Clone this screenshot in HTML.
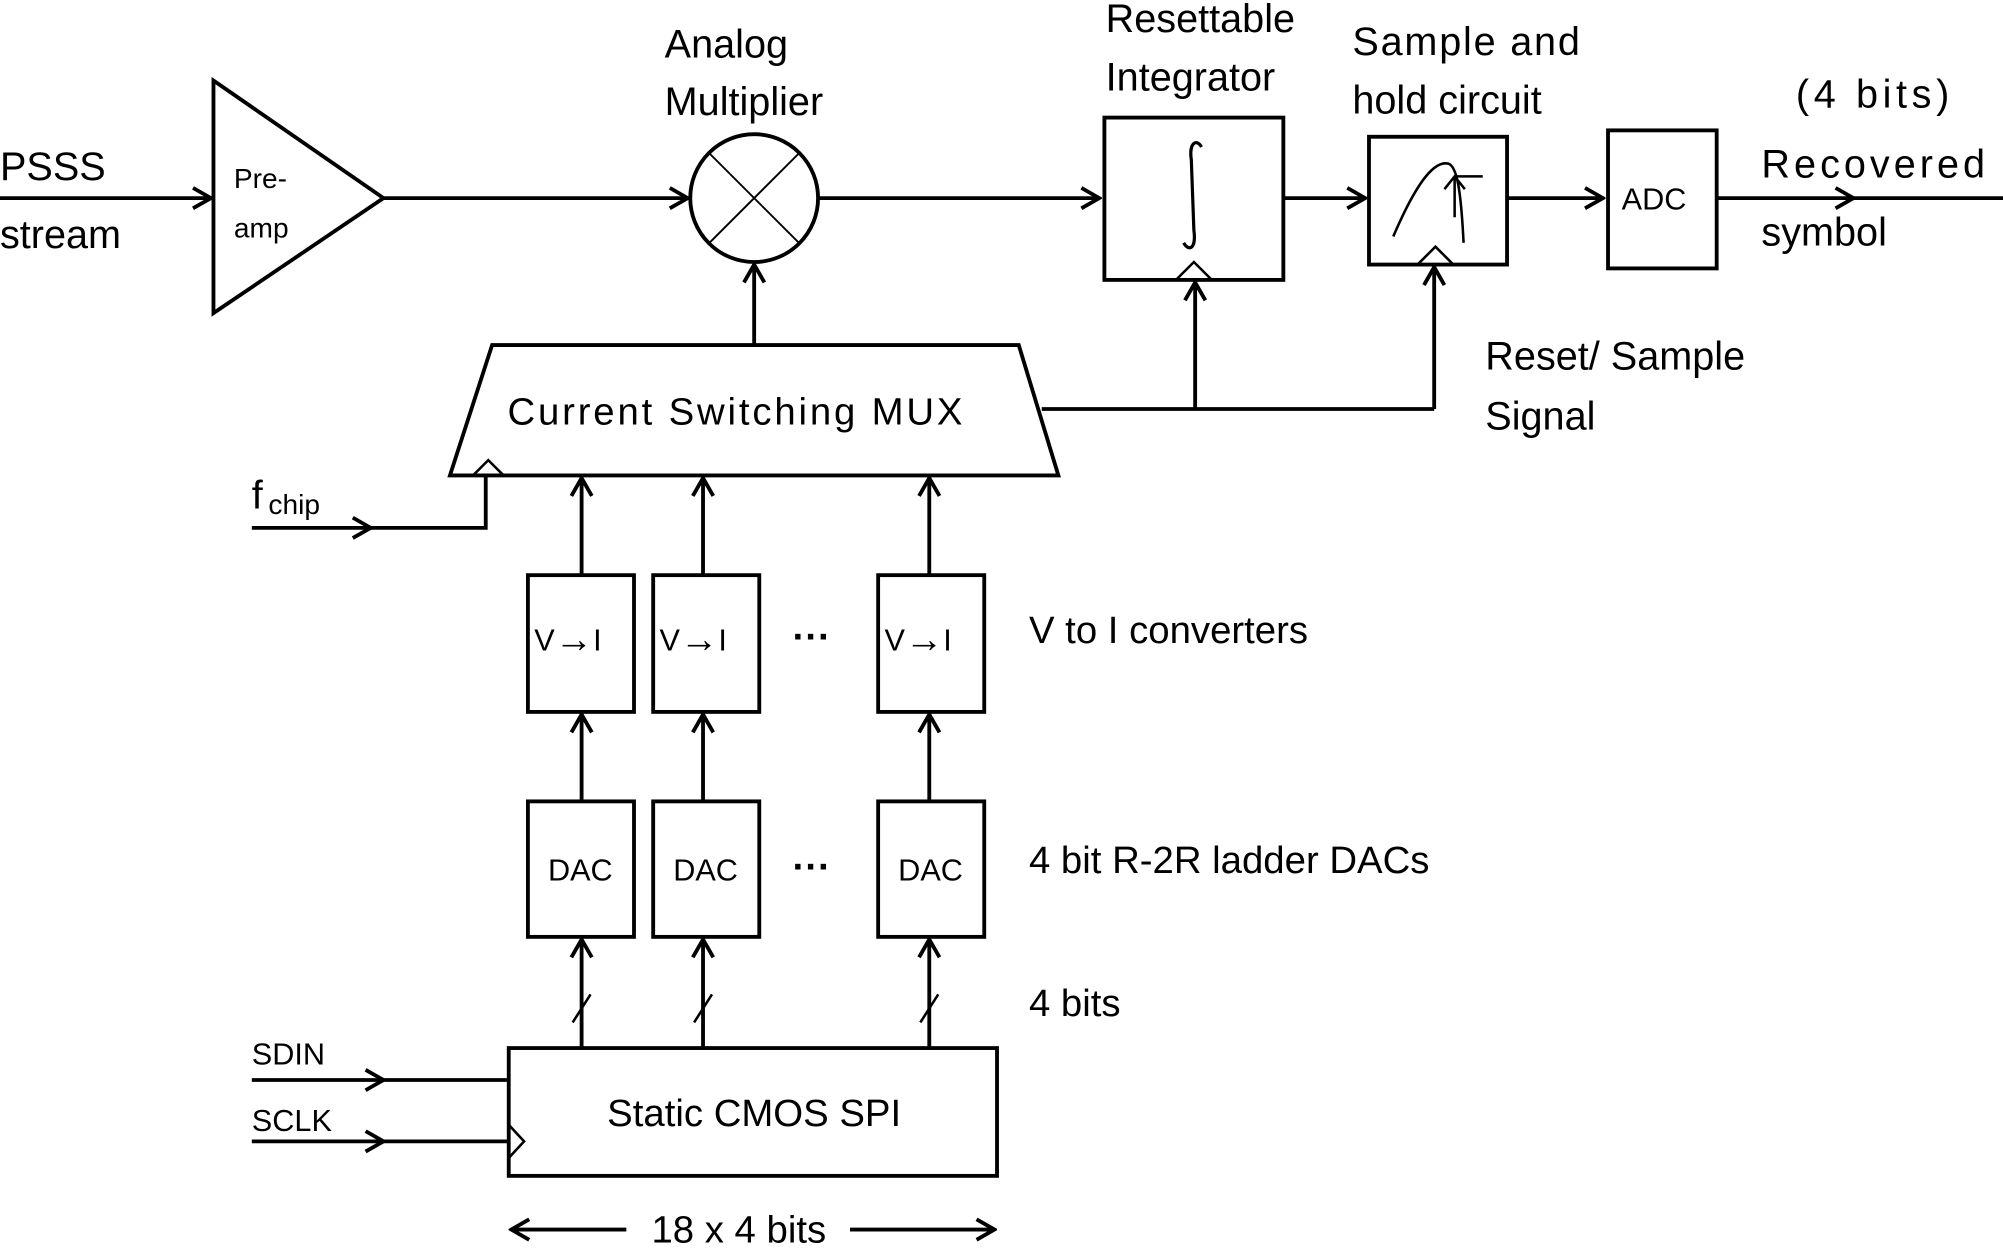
<!DOCTYPE html>
<html><head><style>html,body{margin:0;padding:0;background:#fff}svg{display:block}</style></head>
<body>
<svg width="2003" height="1250" viewBox="0 0 1567 978" preserveAspectRatio="none" xmlns="http://www.w3.org/2000/svg" font-family="Liberation Sans, sans-serif" fill="none" stroke="#000" stroke-width="3">
<defs>
<marker id="a" viewBox="0 0 20 20" refX="18" refY="10" markerWidth="20" markerHeight="20" markerUnits="userSpaceOnUse" orient="auto"><path d="M4 2 L18 10 L4 18" fill="none" stroke="#000" stroke-width="3"/></marker>
</defs>
<g fill="#000" stroke="none" font-size="31">
<text x="0" y="141">PSSS</text><text x="0" y="194">stream</text>
<text x="520" y="45">Analog</text><text x="520" y="90">Multiplier</text>
<text x="865" y="25">Resettable</text><text x="865" y="71">Integrator</text>
<text x="1058" y="43" textLength="178">Sample and</text><text x="1058" y="89">hold circuit</text>
<text x="1405" y="84" textLength="120">(4 bits)</text><text x="1378" y="139" textLength="175">Recovered</text><text x="1378" y="192">symbol</text>
<text x="1162" y="289">Reset/ Sample</text><text x="1162" y="336">Signal</text>
<text x="575" y="332" text-anchor="middle" font-size="30" textLength="356">Current Switching MUX</text>
<text x="805" y="503" font-size="30">V to I converters</text>
<text x="805" y="683" font-size="30">4 bit R-2R ladder DACs</text>
<text x="805" y="795" font-size="30">4 bits</text>
<text x="590" y="881" text-anchor="middle" font-size="30">Static CMOS SPI</text>
<text x="578" y="972" text-anchor="middle" font-size="30">18 x 4 bits</text>
<text x="197" y="398" font-size="31">f</text><text x="210" y="402" font-size="22">chip</text>
<text x="197" y="833" font-size="24">SDIN</text><text x="197" y="885" font-size="24">SCLK</text>
<g font-size="22"><text x="183" y="147">Pre-</text><text x="183" y="186">amp</text></g>
<text x="1294" y="164" text-anchor="middle" font-size="24">ADC</text>
<g font-size="24"><text x="418" y="509">V<tspan font-size="30" dy="1">→</tspan><tspan dy="-1">I</tspan></text>
<text x="516" y="509">V<tspan font-size="30" dy="1">→</tspan><tspan dy="-1">I</tspan></text>
<text x="692" y="509">V<tspan font-size="30" dy="1">→</tspan><tspan dy="-1">I</tspan></text></g>
<g font-size="24" text-anchor="middle">
<text x="454" y="689">DAC</text><text x="552" y="689">DAC</text><text x="728" y="689">DAC</text></g>
<text x="635" y="508" font-size="30" text-anchor="middle" font-weight="bold">···</text>
<text x="635" y="688" font-size="30" text-anchor="middle" font-weight="bold">···</text>
</g>
<line x1="0" y1="155" x2="165" y2="155" marker-end="url(#a)"/>
<path d="M167 63 L167 245 L300 155 Z"/>
<line x1="300" y1="155" x2="538" y2="155" marker-end="url(#a)"/>
<circle cx="590" cy="155" r="50"/>
<path d="M555 120 L625 190 M625 120 L555 190" stroke-width="1.5"/>
<line x1="640" y1="155" x2="860" y2="155" marker-end="url(#a)"/>
<rect x="864" y="92" width="140" height="127"/>
<path d="M940 115 C936 108 930 112 932 125 L934 180 C936 195 930 197 926 190" stroke-width="2.5"/>
<path d="M920 219 L934 205 L948 219 Z" stroke-width="2"/>
<line x1="1004" y1="155" x2="1068" y2="155" marker-end="url(#a)"/>
<rect x="1071" y="107" width="108" height="100"/>
<path d="M1090 185 C1105 150 1120 125 1133 128 C1140 130 1143 150 1145 190" stroke-width="2"/>
<path d="M1138 170 L1138 138 M1130 148 L1138 138 L1146 148 M1138 138 L1160 138" stroke-width="2"/>
<path d="M1109 207 L1123 193 L1137 207 Z" stroke-width="2"/>
<line x1="1179" y1="155" x2="1254" y2="155" marker-end="url(#a)"/>
<rect x="1258" y="102" width="85" height="108"/>
<line x1="1343" y1="155" x2="1450" y2="155" marker-end="url(#a)"/>
<line x1="1450" y1="155" x2="1567" y2="155"/>
<path d="M815 320 L1122 320"/>
<line x1="935" y1="320" x2="935" y2="221" marker-end="url(#a)"/>
<line x1="1122" y1="320" x2="1122" y2="209" marker-end="url(#a)"/>
<path d="M385 270 L797 270 L828 372 L352 372 Z"/>
<line x1="590" y1="270" x2="590" y2="207" marker-end="url(#a)"/>
<path d="M370 372 L382 360 L394 372" stroke-width="2"/>
<line x1="197" y1="413" x2="290" y2="413" marker-end="url(#a)"/>
<path d="M290 413 L380 413 L380 372"/>
<rect x="413" y="450" width="83" height="107"/><rect x="511" y="450" width="83" height="107"/><rect x="687" y="450" width="83" height="107"/>
<rect x="413" y="627" width="83" height="106"/><rect x="511" y="627" width="83" height="106"/><rect x="687" y="627" width="83" height="106"/>
<line x1="455" y1="450" x2="455" y2="374" marker-end="url(#a)"/>
<line x1="550" y1="450" x2="550" y2="374" marker-end="url(#a)"/>
<line x1="727" y1="450" x2="727" y2="374" marker-end="url(#a)"/>
<line x1="455" y1="627" x2="455" y2="559" marker-end="url(#a)"/>
<line x1="550" y1="627" x2="550" y2="559" marker-end="url(#a)"/>
<line x1="727" y1="627" x2="727" y2="559" marker-end="url(#a)"/>
<line x1="455" y1="820" x2="455" y2="735" marker-end="url(#a)"/>
<line x1="550" y1="820" x2="550" y2="735" marker-end="url(#a)"/>
<line x1="727" y1="820" x2="727" y2="735" marker-end="url(#a)"/>
<path d="M448 800 L462 778 M543 800 L557 778 M720 800 L734 778" stroke-width="2"/>
<rect x="398" y="820" width="382" height="100"/>
<line x1="197" y1="845" x2="300" y2="845" marker-end="url(#a)"/><line x1="300" y1="845" x2="398" y2="845"/>
<line x1="197" y1="893" x2="300" y2="893" marker-end="url(#a)"/><line x1="300" y1="893" x2="398" y2="893"/>
<path d="M398 880 L410 893 L398 906" stroke-width="2"/>
<line x1="490" y1="962" x2="400" y2="962" marker-end="url(#a)"/>
<line x1="665" y1="962" x2="778" y2="962" marker-end="url(#a)"/>
</svg>
</body></html>
